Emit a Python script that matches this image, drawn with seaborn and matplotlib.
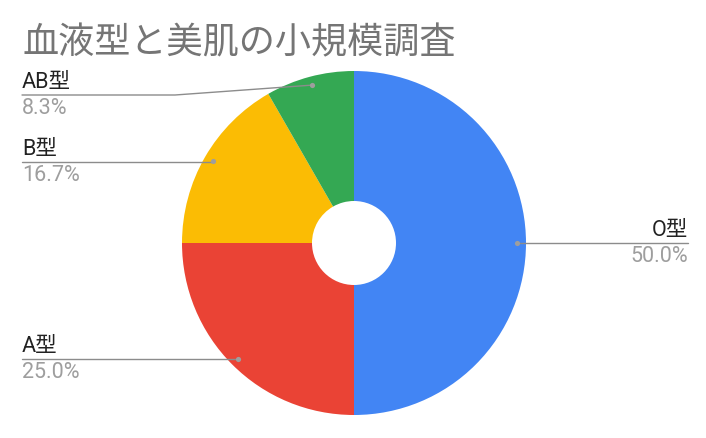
import seaborn as sns
import matplotlib.pyplot as plt
import numpy as np

title = "血液型と美肌の小規模調査"
groups = ["O型", "A型", "B型", "AB型"]
shares = [50.0, 25.0, 16.7, 8.3]
colors = ["#4285F4", "#EA4335", "#FBBC04", "#34A853"]

sns.set_theme(style="white")
plt.rcParams['font.family'] = ['Roboto', 'Noto Sans CJK JP', 'DejaVu Sans']

W, H = 706, 439
fig = plt.figure(figsize=(W / 100, H / 100), dpi=100)
ax = fig.add_axes([0, 0, 1, 1])

cx, cy = 354, H - 244
r_out, r_in = 172, 42

wedges, _ = ax.pie(shares, colors=colors, startangle=90, counterclock=False,
                   center=(cx, cy), radius=r_out, frame=True,
                   wedgeprops=dict(width=r_out - r_in, edgecolor='none', linewidth=0))
ax.set_xlim(0, W)
ax.set_ylim(0, H)
ax.set_aspect('equal')
ax.axis('off')

# label placement: side and line height (pixels from top) per slice
label_rows = {"O型": ("right", 244), "A型": ("left", 360), "B型": ("left", 163), "AB型": ("left", 96)}
line_col = "#8c8c8c"

for w, name, val in zip(wedges, groups, shares):
    mid = np.deg2rad((w.theta1 + w.theta2) / 2)
    dx = cx + 0.95 * r_out * np.cos(mid)
    dy = cy + 0.95 * r_out * np.sin(mid)
    side, ly = label_rows[name]
    ly = H - ly
    if side == "left":
        x_end, ha = 22, 'left'
        bend = 175 if abs(ly - dy) > 2 else dx
        ax.plot([x_end, bend, dx], [ly, ly, dy], color=line_col, lw=1, zorder=3)
    else:
        x_end, ha = 688, 'right'
        ax.plot([dx, x_end], [dy, ly], color=line_col, lw=1, zorder=3)
    ax.scatter([dx], [dy], s=14, color="#9e9e9e", zorder=4, linewidths=0)
    ax.text(x_end, ly + 3, name, ha=ha, va='bottom', fontsize=15.5, color="#222222")
    ax.text(x_end, ly - 2, f"{val:.1f}%", ha=ha, va='top', fontsize=15.5, color="#9e9e9e")

ax.text(22, H - 53, title, ha='left', va='baseline', fontsize=26, color="#757575",
        family=['Noto Sans CJK JP', 'DejaVu Sans'])

fig.savefig("out.png", dpi=100)
